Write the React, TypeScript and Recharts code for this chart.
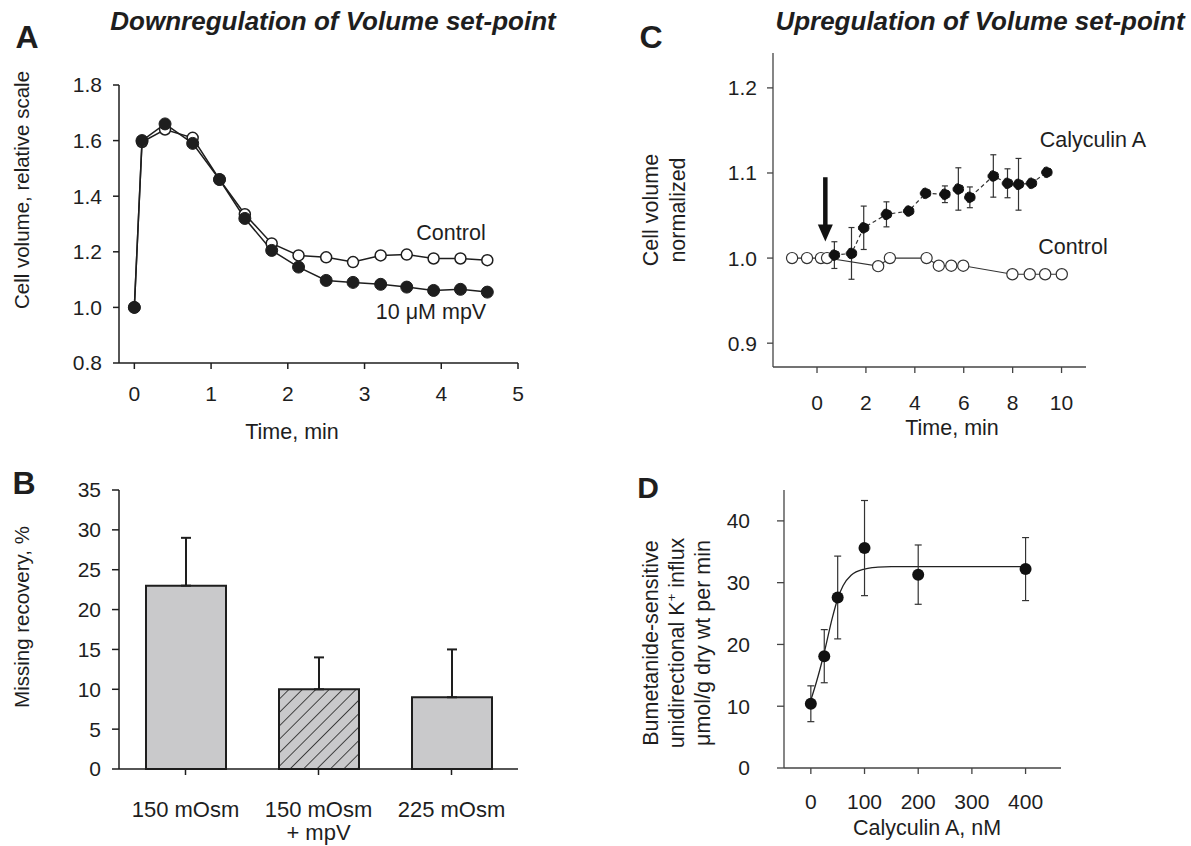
import React from "react";
import {
  LineChart,
  Line,
  XAxis,
  YAxis,
  BarChart,
  Bar,
  Cell,
  ErrorBar,
  ComposedChart,
  Scatter,
  ReferenceLine,
} from "recharts";

const FONT = '"Liberation Sans", Arial, Helvetica, sans-serif';
const INK = "#1e1e1e";
const GREY_INK = "#333";
const LABEL = 21.5;

// A: cell volume after hypotonic shock
const timeA = [0, 0.1, 0.4, 0.76, 1.11, 1.44, 1.79, 2.14, 2.5, 2.85, 3.21, 3.55, 3.9, 4.25, 4.6];
const controlA = [1.0, 1.595, 1.64, 1.61, 1.46, 1.335, 1.23, 1.187, 1.18, 1.163, 1.187, 1.19, 1.176, 1.176, 1.17];
const mpvA = [1.0, 1.6, 1.66, 1.59, 1.46, 1.32, 1.205, 1.145, 1.097, 1.09, 1.083, 1.073, 1.061, 1.065, 1.055];
const yTicksA = [0.8, 1.0, 1.2, 1.4, 1.6, 1.8];

// B: missing recovery
const groupsB = ["150 mOsm", "150 mOsm\n+ mpV", "225 mOsm"];
const recoveryB = [23, 10, 9];
const recoveryErrB = [6, 4, 6];

// C: calyculin A vs control
const controlTimeC = [-1.02, -0.41, 0.16, 0.41, 2.5, 2.98, 4.48, 4.98, 5.49, 5.98, 7.99, 8.7, 9.33, 10.01];
const controlC = [1.0, 1.0, 1.0, 1.0, 0.9905, 1.0, 1.0, 0.991, 0.991, 0.991, 0.981, 0.981, 0.981, 0.981];
const calyTimeC = [0.71, 1.41, 1.91, 2.84, 3.75, 4.44, 5.23, 5.78, 6.25, 7.21, 7.79, 8.24, 8.77, 9.4];
const calyC = [1.0035, 1.0055, 1.0356, 1.0514, 1.0553, 1.0761, 1.075, 1.0812, 1.0714, 1.0965, 1.0879, 1.0867, 1.0879, 1.1008];
const calyErrC = [0.0157, 0.0304, 0.0255, 0.0147, 0, 0, 0.0098, 0.0249, 0.0122, 0.0249, 0.017, 0.0304, 0, 0];
const arrowC = { t: 0.34, from: 1.095, to: 1.0195 };

// D: K+ influx vs calyculin A
const concD = [0, 25, 50, 100, 200, 400];
const influxD = [10.4, 18.1, 27.6, 35.6, 31.3, 32.2];
const influxErrD = [2.9, 4.3, 6.7, 7.7, 4.8, 5.1];
const fitConcD = [0, 10, 25, 40, 50, 60, 75, 100, 125, 150, 200, 300, 400];
const fitD = [11.0, 13.8, 18.7, 24.3, 27.4, 29.5, 31.2, 32.2, 32.5, 32.6, 32.6, 32.6, 32.6];

const controlDataA = timeA.map((t, i) => ({ t, v: controlA[i] }));
const mpvDataA = timeA.map((t, i) => ({ t, v: mpvA[i] }));
const dataB = groupsB.map((name, i) => ({ name, v: recoveryB[i], e: [0, recoveryErrB[i]] }));
const controlDataC = controlTimeC.map((t, i) => ({ t, v: controlC[i] }));
const calyDataC = calyTimeC.map((t, i) => ({ t, v: calyC[i], e: calyErrC[i] }));
const pointsD = concD.map((c, i) => ({ c, y: influxD[i], e: influxErrD[i] }));
const fitDataD = fitConcD.map((c, i) => ({ c, y: fitD[i] }));

const tickText = { fill: INK, fontSize: 21, fontFamily: FONT };
const axisDark = { stroke: INK, strokeWidth: 1.5 };
const axisGrey = { stroke: "#444", strokeWidth: 1.3 };

function Txt({ x, y, size = LABEL, bold = false, italic = false, rotate = 0, lineHeight = 1.15, children }: any) {
  return (
    <div
      style={{
        position: "absolute",
        left: x,
        top: y,
        transform: `translate(-50%, -50%) rotate(${rotate}deg)`,
        fontSize: size,
        fontWeight: bold ? 700 : 400,
        fontStyle: italic ? "italic" : "normal",
        whiteSpace: "pre",
        textAlign: "center",
        lineHeight,
      }}
    >
      {children}
    </div>
  );
}

function GroupTick(props: any) {
  const { x, y, payload } = props;
  const lines = String(payload.value).split("\n");
  return (
    <text x={x} y={y} textAnchor="middle" fill={INK} fontSize={22} fontFamily={FONT}>
      {lines.map((l, i) => (
        <tspan key={i} x={x} dy={i === 0 ? "0.71em" : "1.05em"}>
          {l}
        </tspan>
      ))}
    </text>
  );
}

function arrowShape(p: any) {
  const { x1, y1, x2, y2 } = p;
  const head = 17;
  return (
    <g>
      <line x1={x1} y1={y1} x2={x2} y2={y2 - head + 2} stroke="#111" strokeWidth={4.5} />
      <polygon points={`${x2 - 7.5},${y2 - head} ${x2 + 7.5},${y2 - head} ${x2},${y2}`} fill="#111" />
    </g>
  );
}

function PanelA() {
  return (
    <LineChart width={560} height={460} margin={{ top: 85, right: 42, bottom: 0, left: 0 }}>
      <XAxis type="number" dataKey="t" domain={[-0.2, 5]} ticks={[0, 1, 2, 3, 4, 5]} interval={0}
        allowDataOverflow height={97} tickSize={6} tickMargin={17} axisLine={axisDark} tickLine={axisDark} tick={tickText} />
      <YAxis type="number" domain={[0.8, 1.8]} ticks={yTicksA} interval={0} width={119} tickSize={6} tickMargin={11}
        tickFormatter={(v: number) => v.toFixed(1)} axisLine={axisDark} tickLine={axisDark} tick={tickText} />
      <Line data={controlDataA} dataKey="v" stroke={INK} strokeWidth={1.5}
        dot={{ r: 5.5, fill: "#fff", stroke: INK, strokeWidth: 1.5 }} activeDot={false} isAnimationActive={false} />
      <Line data={mpvDataA} dataKey="v" stroke={INK} strokeWidth={1.5}
        dot={{ r: 6, fill: INK, stroke: INK, strokeWidth: 1 }} activeDot={false} isAnimationActive={false} />
    </LineChart>
  );
}

function PanelB() {
  return (
    <BarChart width={560} height={446} data={dataB} margin={{ top: 90, right: 42, bottom: 0, left: 0 }}>
      <defs>
        <pattern id="hatchB" patternUnits="userSpaceOnUse" width="9.5" height="9.5" patternTransform="rotate(45)">
          <rect width="9.5" height="9.5" fill="#c9c9cb" />
          <line x1="0" y1="0" x2="0" y2="9.5" stroke="#222" strokeWidth="1.6" />
        </pattern>
      </defs>
      <XAxis dataKey="name" height={77} tickSize={6} tickMargin={26} interval={0}
        axisLine={axisDark} tickLine={axisDark} tick={(p: any) => <GroupTick {...p} />} />
      <YAxis type="number" domain={[0, 35]} ticks={[0, 5, 10, 15, 20, 25, 30, 35]} interval={0} width={119}
        tickSize={7} tickMargin={11} axisLine={axisDark} tickLine={axisDark} tick={tickText} />
      <Bar dataKey="v" barSize={80} stroke={INK} strokeWidth={2} isAnimationActive={false}>
        {dataB.map((d, i) => (
          <Cell key={d.name} fill={i === 1 ? "url(#hatchB)" : "#c9c9cb"} />
        ))}
        <ErrorBar dataKey="e" width={5} stroke={INK} strokeWidth={2} direction="y" />
      </Bar>
    </BarChart>
  );
}

function PanelC() {
  return (
    <ComposedChart width={541} height={440} margin={{ top: 53, right: 105, bottom: 0, left: 0 }}>
      <XAxis type="number" dataKey="t" domain={[-1.8, 11]} ticks={[0, 2, 4, 6, 8, 10]} interval={0}
        allowDataOverflow height={73} tickSize={6} tickMargin={22} axisLine={axisGrey} tickLine={axisGrey} tick={tickText} />
      <YAxis type="number" domain={[0.872, 1.241]} ticks={[0.9, 1.0, 1.1, 1.2]} interval={0} allowDataOverflow width={123}
        tickSize={6} tickMargin={10} tickFormatter={(v: number) => v.toFixed(1)} axisLine={axisGrey} tickLine={axisGrey} tick={tickText} />
      <ReferenceLine
        segment={[{ x: arrowC.t, y: arrowC.from }, { x: arrowC.t, y: arrowC.to }]}
        shape={arrowShape}
      />
      <Line data={controlDataC} dataKey="v" stroke={GREY_INK} strokeWidth={1.1}
        dot={{ r: 5.6, fill: "#fff", stroke: GREY_INK, strokeWidth: 1.2 }} activeDot={false} isAnimationActive={false} />
      <Line data={calyDataC} dataKey="v" stroke={GREY_INK} strokeWidth={1.2} strokeDasharray="4 3"
        dot={{ r: 5.3, fill: "#111", stroke: "#111", strokeWidth: 1 }} activeDot={false} isAnimationActive={false}>
        <ErrorBar dataKey="e" width={3} stroke={GREY_INK} strokeWidth={1.2} direction="y" />
      </Line>
    </ComposedChart>
  );
}

function PanelD() {
  return (
    <ComposedChart width={541} height={406} margin={{ top: 50, right: 130, bottom: 0, left: 0 }}>
      <XAxis type="number" dataKey="c" domain={[-50, 466]} ticks={[0, 100, 200, 300, 400]} interval={0}
        allowDataOverflow height={78} tickSize={6} tickMargin={20} axisLine={axisGrey} tickLine={axisGrey} tick={tickText} />
      <YAxis type="number" domain={[0, 45]} ticks={[0, 10, 20, 30, 40]} interval={0} width={134}
        tickSize={7} tickMargin={27} axisLine={axisGrey} tickLine={axisGrey} tick={tickText} />
      <Line data={fitDataD} dataKey="y" type="monotone" stroke="#222" strokeWidth={1.3} dot={false}
        activeDot={false} isAnimationActive={false} />
      <Scatter data={pointsD} dataKey="y" isAnimationActive={false}
        shape={(p: any) => <circle cx={p.cx} cy={p.cy} r={6} fill="#111" />}>
        <ErrorBar dataKey="e" width={3.5} stroke={GREY_INK} strokeWidth={1.2} direction="y" />
      </Scatter>
    </ComposedChart>
  );
}

export default function App() {
  return (
    <div
      style={{
        position: "absolute",
        left: 0,
        top: 0,
        width: 1191,
        height: 846,
        background: "#fff",
        fontFamily: FONT,
        color: INK,
        overflow: "hidden",
      }}
    >
      <div style={{ position: "absolute", left: 0, top: 0 }}>
        <PanelA />
      </div>
      <div style={{ position: "absolute", left: 0, top: 400 }}>
        <PanelB />
      </div>
      <div style={{ position: "absolute", left: 650, top: 0 }}>
        <PanelC />
      </div>
      <div style={{ position: "absolute", left: 650, top: 440 }}>
        <PanelD />
      </div>

      <Txt x={27} y={37} size={32} bold>A</Txt>
      <Txt x={24} y={483} size={32} bold>B</Txt>
      <Txt x={651} y={37} size={32} bold>C</Txt>
      <Txt x={648} y={488} size={30} bold>D</Txt>

      <Txt x={333} y={22} size={26} bold italic>Downregulation of Volume set-point</Txt>
      <Txt x={980} y={22} size={26} bold italic>Upregulation of Volume set-point</Txt>

      <Txt x={22} y={190} size={20.5} rotate={-90}>Cell volume, relative scale</Txt>
      <Txt x={292} y={432}>Time, min</Txt>
      <Txt x={451} y={233}>Control</Txt>
      <Txt x={431} y={312}>10 μM mpV</Txt>

      <Txt x={22} y={617} size={20.5} rotate={-90}>Missing recovery, %</Txt>

      <Txt x={665} y={210} rotate={-90} lineHeight={1.25}>{"Cell volume\nnormalized"}</Txt>
      <Txt x={952} y={428}>Time, min</Txt>
      <Txt x={1093} y={140}>Calyculin A</Txt>
      <Txt x={1073} y={247}>Control</Txt>

      <Txt x={678} y={643} rotate={-90} lineHeight={1.2}>
        {"Bumetanide-sensitive\nunidirectional K"}
        <sup style={{ fontSize: "0.6em", lineHeight: 0 }}>+</sup>
        {" influx\nμmol/g dry wt per min"}
      </Txt>
      <Txt x={927} y={828}>Calyculin A, nM</Txt>
    </div>
  );
}
